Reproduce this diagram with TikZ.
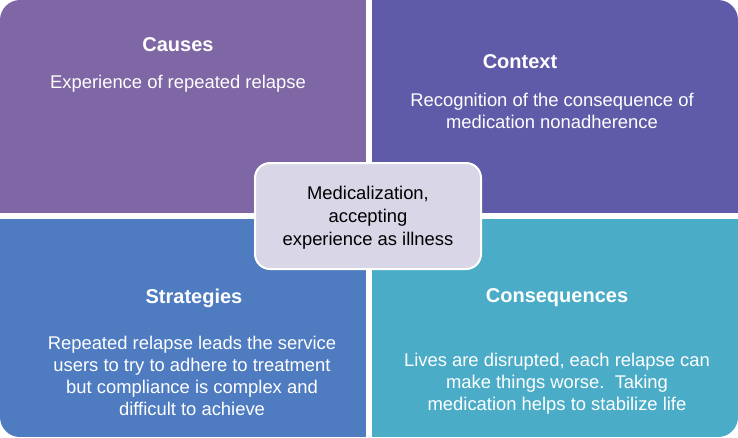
\documentclass[tikz,border=0pt]{standalone}
\usepackage{fontspec}
\setmainfont{Liberation Sans}
\usepackage{xcolor}
\usepackage{tikz}
\usetikzlibrary{positioning}
\definecolor{causescol}{HTML}{7F66A4}
\definecolor{contextcol}{HTML}{5F5BA9}
\definecolor{strategycol}{HTML}{4F7CC0}
\definecolor{consequcol}{HTML}{4AACC6}
\definecolor{centrecol}{HTML}{D9D6E7}
\tikzset{
  relapsepicture/.style={x=1pt, y=-1pt},
  relapsetitle/.style={text=white, align=center, inner sep=0pt, font=\fontsize{20}{24}\selectfont\bfseries},
  relapsebody/.style={text=white, align=center, inner sep=0pt, font=\fontsize{18.4}{22}\selectfont},
  relapsecentre/.style={draw=white, line width=2pt, fill=centrecol, rounded corners=15pt, align=center,
    minimum width=226pt, minimum height=106pt, inner sep=0pt, text depth=0pt, font=\fontsize{18.4}{23}\selectfont}
}
\begin{document}
\begin{tikzpicture}[relapsepicture]
\useasboundingbox (0,0) rectangle (738,437);
% four quadrants, outer corners rounded
\begin{scope}
\clip[rounded corners=20pt] (0,0) rectangle (738,437);
\fill[causescol] (0,0) rectangle (366,213);
\fill[contextcol] (372,0) rectangle (738,213);
\fill[strategycol] (0,219) rectangle (366,437);
\fill[consequcol] (372,219) rectangle (738,437);
\end{scope}
\node[relapsetitle] (causes) at (178,45) {Causes};
\node[relapsebody] (causestext) at (178,84) {Experience of repeated relapse};
\node[relapsetitle] (context) at (520,62) {Context};
\node[relapsebody] (contexttext) at (552,111) {Recognition of the consequence of\\medication nonadherence};
\node[relapsetitle] (strategies) at (194,298) {Strategies};
\node[relapsebody] (strategiestext) at (192,376) {Repeated relapse leads the service\\users to try to adhere to treatment\\but compliance is complex and\\difficult to achieve};
\node[relapsetitle] (consequences) at (557,298) {Consequences};
\node[relapsebody] (consequencestext) at (557,384) {Lives are disrupted, each relapse can\\make things worse.\ \ Taking\\medication helps to stabilize life};
% centre
\node[relapsecentre] (medical) at (368,216) {Medicalization,\\accepting\\experience as illness};
\end{tikzpicture}
\end{document}
